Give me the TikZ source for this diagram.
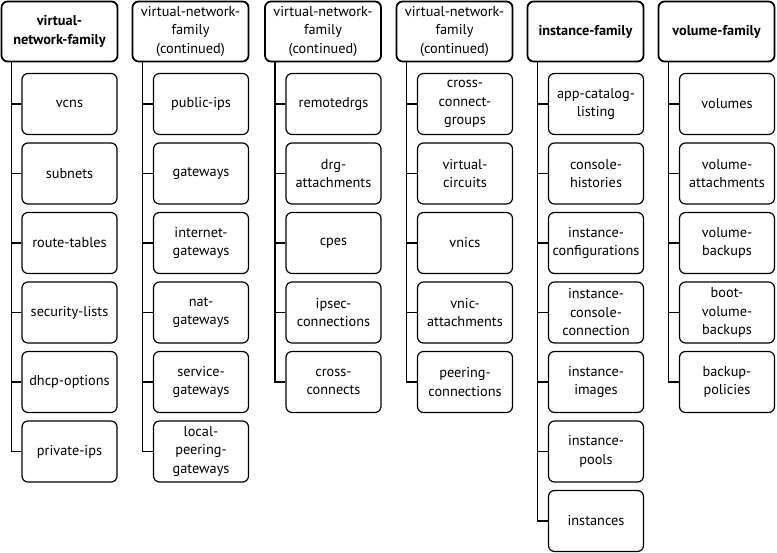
\documentclass[tikz,border=0pt]{standalone}
\usepackage{fontspec}
\setmainfont{PT Sans}
\begin{document}
\begin{tikzpicture}[
  x=1pt, y=-1pt,
  family/.style={rectangle, draw, rounded corners=6pt, line width=1.8pt, minimum width=116pt, minimum height=60pt, inner sep=0pt, align=center, font=\fontsize{14.3}{18.5}\selectfont},
  cmd/.style={rectangle, draw, rounded corners=6pt, line width=1.2pt, minimum width=95pt, minimum height=61pt, inner sep=0pt, align=center, font=\fontsize{14.3}{18.5}\selectfont},
  link/.style={line width=1.6pt}
]
\useasboundingbox (0,0) rectangle (777,553);

% family headers
\node[family, font=\fontsize{14.3}{18.5}\selectfont\bfseries] (vnf1) at (59.5,31.5) {virtual-\\network-family};
\node[family] (vnf2) at (190.5,31.5) {virtual-network-\\family\\(continued)};
\node[family] (vnf3) at (323,31.5) {virtual-network-\\family\\(continued)};
\node[family] (vnf4) at (454.5,31.5) {virtual-network-\\family\\(continued)};
\node[family, font=\fontsize{14.3}{18.5}\selectfont\bfseries] (inf) at (585.5,31.5) {instance-family};
\node[family, font=\fontsize{14.3}{18.5}\selectfont\bfseries] (vof) at (716.5,31.5) {volume-family};

% virtual-network-family
\node[cmd] (vcns) at (69.5,104) {vcns};
\node[cmd] (subnets) at (69.5,173.5) {subnets};
\node[cmd] (routetables) at (69.5,243) {route-tables};
\node[cmd] (securitylists) at (69.5,312.5) {security-lists};
\node[cmd] (dhcpoptions) at (69.5,382) {dhcp-options};
\node[cmd] (privateips) at (69.5,451.5) {private-ips};

% virtual-network-family (continued)
\node[cmd] (publicips) at (201,104) {public-ips};
\node[cmd] (gateways) at (201,173.5) {gateways};
\node[cmd] (internetgw) at (201,243) {internet-\\gateways};
\node[cmd] (natgw) at (201,312.5) {nat-\\gateways};
\node[cmd] (servicegw) at (201,382) {service-\\gateways};
\node[cmd] (localpeeringgw) at (201,451.5) {local-\\peering-\\gateways};

\node[cmd] (remotedrgs) at (333.5,104) {remotedrgs};
\node[cmd] (drgattach) at (333.5,173.5) {drg-\\attachments};
\node[cmd] (cpes) at (333.5,243) {cpes};
\node[cmd] (ipsecconn) at (333.5,312.5) {ipsec-\\connections};
\node[cmd] (crossconnects) at (333.5,382) {cross-\\connects};

\node[cmd] (ccgroups) at (465,104) {cross-\\connect-\\groups};
\node[cmd] (vcircuits) at (465,173.5) {virtual-\\circuits};
\node[cmd] (vnics) at (465,243) {vnics};
\node[cmd] (vnicattach) at (465,312.5) {vnic-\\attachments};
\node[cmd] (peeringconn) at (465,382) {peering-\\connections};

% instance-family
\node[cmd] (appcatalog) at (596,104) {app-catalog-\\listing};
\node[cmd] (consolehist) at (596,173.5) {console-\\histories};
\node[cmd] (instconfig) at (596,243) {instance-\\configurations};
\node[cmd] (instconsole) at (596,312.5) {instance-\\console-\\connection};
\node[cmd] (instimages) at (596,382) {instance-\\images};
\node[cmd] (instpools) at (596,451.5) {instance-\\pools};
\node[cmd] (instances) at (596,521) {instances};

% volume-family
\node[cmd] (volumes) at (727,104) {volumes};
\node[cmd] (volattach) at (727,173.5) {volume-\\attachments};
\node[cmd] (volbackups) at (727,243) {volume-\\backups};
\node[cmd] (bootvolbackups) at (727,312.5) {boot-\\volume-\\backups};
\node[cmd] (backuppol) at (727,382) {backup-\\policies};

% tree links
\foreach \c in {vcns,subnets,routetables,securitylists,dhcpoptions,privateips}
  \draw[link] ([xshift=11pt]vnf1.south west) |- (\c.west);
\foreach \c in {publicips,gateways,internetgw,natgw,servicegw,localpeeringgw}
  \draw[link] ([xshift=11pt]vnf2.south west) |- (\c.west);
\foreach \c in {remotedrgs,drgattach,cpes,ipsecconn,crossconnects}
  \draw[link] ([xshift=11pt]vnf3.south west) |- (\c.west);
\foreach \c in {ccgroups,vcircuits,vnics,vnicattach,peeringconn}
  \draw[link] ([xshift=11pt]vnf4.south west) |- (\c.west);
\foreach \c in {appcatalog,consolehist,instconfig,instconsole,instimages,instpools,instances}
  \draw[link] ([xshift=11pt]inf.south west) |- (\c.west);
\foreach \c in {volumes,volattach,volbackups,bootvolbackups,backuppol}
  \draw[link] ([xshift=11pt]vof.south west) |- (\c.west);
\end{tikzpicture}
\end{document}
